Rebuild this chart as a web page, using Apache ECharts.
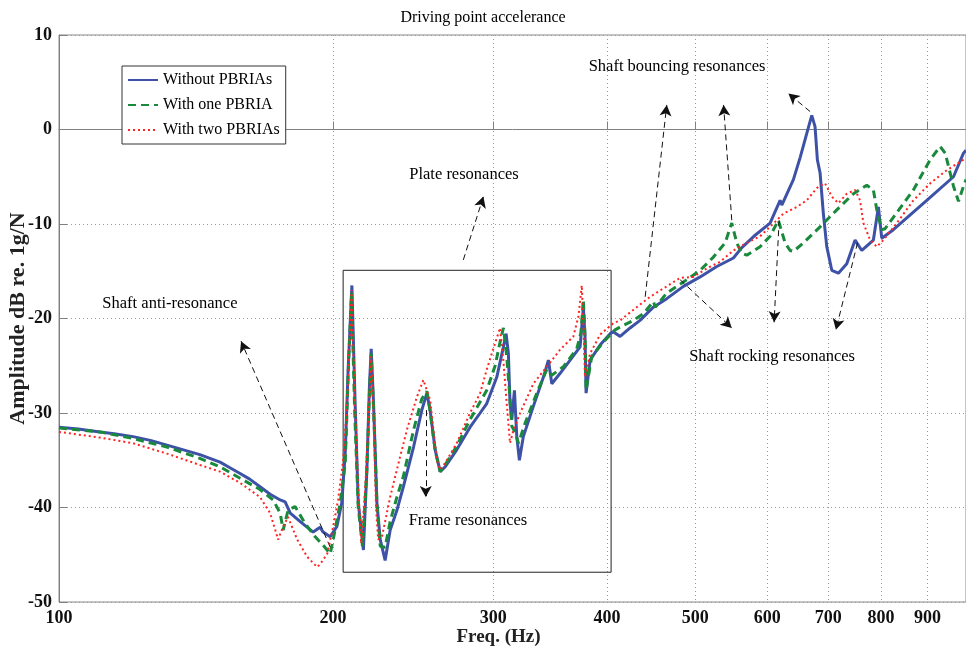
<!DOCTYPE html>
<html><head><meta charset="utf-8">
<script src="https://cdn.jsdelivr.net/npm/echarts@6/dist/echarts.min.js"></script>
<style>html,body{margin:0;padding:0;background:#fff}#c{width:966px;height:654px}</style>
</head><body><div id="c"></div>
<script>
// ---- data ----
const freqTicks = [100, 200, 300, 400, 500, 600, 700, 800, 900];
const seriesNames = ['Without PBRIAs', 'With one PBRIA', 'With two PBRIAs'];

const withoutFreq = [100,105,110.9,115,120.6,126,131.4,137,142.8,150.3,154.1,158.1,162,166.3,170.6,175.0,177.2,179.5,184.1,190.2,193.6,195.1,198.6,202.0,204.5,206.3,207.8,209.8,211.5,213.2,216.0,217.9,219.3,220.3,221.6,223.5,225.4,228.2,231.1,235.1,239.0,245.2,250.4,253.6,255.7,259.0,262.3,265.6,273.5,282.9,290.2,295.1,302.7,307.8,309.9,311.7,313.0,314.4,316.5,318.4,320.5,323.7,332.0,340.6,344.9,347.9,355.3,364.4,373.7,376.8,378.4,379.4,383.3,393.1,403.2,406.5,413.5,424.1,434.9,449.8,465.3,485.3,506.3,528.1,550.8,562.6,580,604.3,619.8,622.5,641.0,651.9,663.1,671.5,677.1,681.1,685.8,691.5,697.5,706.4,718.3,733.7,749.3,762.1,784.8,794.8,801.6,825.5,898.3,961.1,985.7,992];
const withoutDb = [-31.5,-31.7,-32.0,-32.2,-32.5,-32.9,-33.4,-33.9,-34.4,-35.2,-35.8,-36.4,-37.0,-37.8,-38.6,-39.2,-39.4,-40.6,-41.5,-42.6,-42.1,-42.6,-43.1,-42.0,-39.5,-34.2,-25.4,-16.5,-28.9,-39.5,-44.5,-36.0,-27.2,-23.2,-28.9,-39.5,-43.4,-45.6,-42.4,-40.3,-37.8,-33.6,-29.7,-27.9,-29.7,-33.9,-36.2,-35.7,-33.9,-31.5,-30.0,-29.0,-26.2,-23.0,-21.6,-23.7,-29.0,-30.7,-27.6,-32.5,-35.0,-32.5,-29.3,-26.2,-24.4,-26.9,-25.8,-24.4,-23.0,-18.8,-21.9,-27.9,-24.4,-22.8,-21.6,-21.4,-21.9,-21.0,-20.2,-18.8,-17.9,-16.6,-15.6,-14.5,-13.6,-12.5,-11.3,-9.9,-7.5,-8.0,-5.3,-3.0,-0.4,1.5,0.3,-3.2,-4.6,-8.9,-12.4,-14.9,-15.2,-14.2,-11.7,-12.8,-11.7,-8.2,-11.5,-10.6,-7.5,-5.0,-2.5,-2.2];

const oneFreq = [100,110.9,120.6,131.4,142.8,150.3,158.1,166.3,171.9,175.0,176.3,178.5,181.7,186.4,191.2,195.1,198.6,200.1,203.7,206.3,208.0,209.6,211.3,213.2,215.5,217.9,219.3,220.3,221.6,223.5,225.4,228.2,231.1,235.1,239.0,245.2,250.4,253.6,255.7,259.0,262.3,265.6,273.5,282.9,295.1,301.4,305.2,307.8,310.4,313.0,314.4,317.0,319.7,325.1,334.9,343.5,347.9,358.2,370.6,374.5,376.8,378.4,379.4,384.9,396.4,408.3,413.5,427.6,438.6,449.8,452,465.3,489.5,506.3,523.6,539.3,548.5,555.5,562.6,569.7,589.2,604.3,617.1,627.7,635.7,641,657.4,685.8,715.4,746.1,771.8,784.8,791.6,801.6,808.4,832.7,868.4,905.9,929.2,941.1,961.1,973.3,985.7,992];
const oneDb = [-31.6,-32.0,-32.7,-33.6,-34.8,-35.7,-36.9,-38.1,-39.2,-40.6,-42.4,-40.3,-39.9,-41.7,-43.1,-44.0,-44.9,-43.4,-39.5,-35.3,-25.0,-17.3,-30.0,-40.0,-44.1,-36.0,-28.0,-23.7,-29.5,-39.5,-44.1,-44.2,-41.5,-38.9,-36.7,-31.8,-28.5,-27.7,-29.8,-34.0,-36.2,-35.5,-33.5,-30.7,-27.6,-25.0,-22.5,-21.0,-24.0,-28.5,-31.4,-32.0,-33.2,-31.1,-27.9,-25.4,-26.0,-25.1,-23.2,-21.5,-18.0,-22.0,-27.6,-24.0,-22.5,-21.2,-20.9,-20.2,-19.5,-18.2,-18.8,-17.3,-15.9,-14.9,-13.5,-12.0,-9.9,-12.0,-13.1,-13.3,-12.4,-11.3,-9.6,-12.0,-12.8,-12.9,-12.0,-10.3,-8.5,-6.8,-5.9,-6.4,-8.5,-10.6,-10.5,-8.8,-6.4,-3.2,-1.8,-2.5,-6.0,-7.6,-6.0,-5.3];

const twoFreq = [100,110.9,120.6,131.4,142.8,150.3,158.1,166.3,170.6,174.1,176.3,178.5,182.7,187.3,192.1,193.6,197.1,200.1,202.6,205.2,207.3,209.6,211.3,213.2,214.8,217.0,219.0,220.3,221.6,223.0,224.2,226.5,231.1,235.1,241.1,247.3,251.4,255.7,260.1,262.3,265.6,273.5,282.9,290.2,295.1,301.4,305.2,307.8,310.4,313.0,315.7,321.1,332.0,343.5,355.3,367.4,372.1,375.3,376.8,378.4,383.3,393.1,406.5,413.5,431.3,446.1,465.3,481.3,497.7,514.9,532.5,550.8,569.7,589.2,604.3,625.0,646.5,663.1,680.1,694.5,706.4,718.3,733.7,749.3,758.8,765.2,778.3,791.6,804.9,832.7,868.4,905.9,945.1,985.7,992];
const twoDb = [-32.0,-32.6,-33.2,-34.3,-35.5,-36.2,-37.4,-38.9,-40.6,-43.4,-42.0,-41.0,-43.4,-45.2,-46.3,-46.0,-44.9,-42.0,-39.2,-35.0,-29.0,-17.0,-28.0,-38.0,-43.8,-38.0,-30.0,-24.0,-30.0,-40.0,-43.4,-43.0,-38.9,-36.0,-31.8,-28.3,-26.5,-28.6,-35.0,-36.0,-35.3,-33.2,-30.0,-27.9,-25.4,-22.6,-21.0,-24.5,-29.0,-33.2,-31.8,-30.0,-26.9,-25.1,-23.3,-21.9,-19.8,-16.5,-20.5,-26.2,-23.7,-21.7,-20.5,-20.2,-18.8,-17.7,-16.6,-15.7,-15.6,-14.7,-14.0,-12.8,-12.0,-11.3,-10.3,-8.9,-8.2,-7.5,-6.2,-5.7,-7.1,-7.8,-6.8,-6.4,-7.5,-9.9,-11.7,-12.4,-11.7,-9.9,-7.5,-5.7,-4.3,-3.2,-3.0];

// annotation texts and anchors (data coordinates: Hz, dB)
const noteTexts = ['Plate resonances','Shaft anti-resonance','Frame resonances','Shaft bouncing resonances','Shaft rocking resonances'];
const noteAnchors = [[278.6,-4.8],[132.4,-18.4],[281.4,-41.4],[477.6,6.7],[607.4,-24.0]];
const arrowFrom = [[198.6,-44.2],[278.1,-13.8],[252.9,-29.7],[440.6,-17.7],[548.5,-9.6],[668.7,1.9],[481.3,-15.9],[618.3,-9.6],[753.9,-12.0]];
const arrowTo   = [[158.5,-22.4],[292.6,-7.1],[252.9,-38.9],[465.3,2.6],[537.2,2.6],[633.0,3.8],[548.5,-21.0],[610.5,-20.4],[713.8,-21.2]];
const boxCorners = [[205.2,-14.9],[404.2,-46.85]];

// ---- chart ----
const serif = '"Liberation Serif", "Times New Roman", serif';
const pairs = (fs, ds) => fs.map((f, i) => [f, ds[i]]);
const chart = echarts.init(document.getElementById('c'));
const option = {
  animation: false,
  backgroundColor: '#fff',
  title: {
    text: 'Driving point accelerance', left: 'center', top: 5,
    textStyle: { fontFamily: serif, fontSize: 16, fontWeight: 'normal', color: '#000' }
  },
  legend: {
    data: seriesNames, orient: 'vertical', left: 122, top: 66,
    itemWidth: 30, itemHeight: 12, itemGap: 9,
    padding: [6, 6, 6, 5], borderColor: '#333', borderWidth: 1, backgroundColor: '#fff',
    itemStyle: { color: 'rgba(0,0,0,0)', borderWidth: 0, opacity: 0 },
    textStyle: { fontFamily: serif, fontSize: 16, color: '#000', lineHeight: 16 }
  },
  grid: { left: 59, right: 0, top: 35, bottom: 52, show: true, borderColor: '#888', borderWidth: 1,
          containLabel: false, outerBoundsMode: 'none' },
  xAxis: {
    type: 'log', logBase: 10, min: 100, max: 992,
    name: 'Freq. (Hz)', nameLocation: 'middle', nameGap: 26, nameMoveOverlap: false,
    nameTextStyle: { fontFamily: serif, fontSize: 19, fontWeight: 'bold', color: '#222', padding: [0, 28, 0, 0] },
    axisLine: { lineStyle: { color: '#808080' } },
    axisTick: { inside: true, length: 8, customValues: freqTicks, lineStyle: { color: '#808080' } },
    axisLabel: { customValues: freqTicks, margin: 7, fontFamily: serif, fontSize: 18, fontWeight: 'bold', color: '#111' },
    splitLine: { show: true, lineStyle: { type: [1, 3], color: '#9a9a9a' } },
    minorTick: { show: false }, minorSplitLine: { show: false }
  },
  yAxis: {
    type: 'value', min: -50, max: 10, interval: 10,
    name: 'Amplitude dB re. 1g/N', nameLocation: 'middle', nameGap: 30, nameMoveOverlap: false,
    nameTextStyle: { fontFamily: serif, fontSize: 22, fontWeight: 'bold', color: '#222' },
    axisLine: { show: true, lineStyle: { color: '#808080' } },
    axisTick: { show: true, inside: true, length: 8, lineStyle: { color: '#808080' } },
    axisLabel: { margin: 7, fontFamily: serif, fontSize: 18, fontWeight: 'bold', color: '#111' },
    splitLine: { show: true, lineStyle: { type: [1, 3], color: '#9a9a9a' } }
  },
  series: [
    { name: seriesNames[0], type: 'line', symbol: 'none', data: pairs(withoutFreq, withoutDb),
      lineStyle: { color: '#3d52a6', width: 3 }, itemStyle: { color: '#3d52a6' }, z: 3 },
    { name: seriesNames[1], type: 'line', symbol: 'none', data: pairs(oneFreq, oneDb),
      lineStyle: { color: '#198a3c', width: 3, type: [8, 5] }, itemStyle: { color: '#198a3c' }, z: 4 },
    { name: seriesNames[2], type: 'line', symbol: 'none', data: pairs(twoFreq, twoDb),
      lineStyle: { color: '#ff2424', width: 2, type: [2, 3] }, itemStyle: { color: '#ff2424' }, z: 5 },
    { name: 'annotations', type: 'line', data: [], silent: true, z: 6,
      markArea: {
        silent: true,
        itemStyle: { color: 'rgba(0,0,0,0)', borderColor: '#222', borderWidth: 1 },
        label: { show: false },
        data: [[{ coord: boxCorners[0] }, { coord: boxCorners[1] }]]
      },
      markLine: {
        silent: true, symbol: ['none', 'arrow'], symbolSize: [9, 11],
        lineStyle: { color: '#111', width: 1, type: [6, 4] },
        label: { show: false },
        data: arrowFrom.map((p, i) => [{ coord: p }, { coord: arrowTo[i] }])
      },
      markPoint: {
        silent: true, symbol: 'circle', symbolSize: 1,
        itemStyle: { color: 'rgba(0,0,0,0)' },
        label: { show: true, position: 'inside', formatter: p => p.name, fontFamily: serif, fontSize: 16.5, color: '#000' },
        data: noteTexts.map((t, i) => ({ name: t, coord: noteAnchors[i] }))
      }
    }
  ]
};
chart.setOption(option);
</script>
</body></html>
